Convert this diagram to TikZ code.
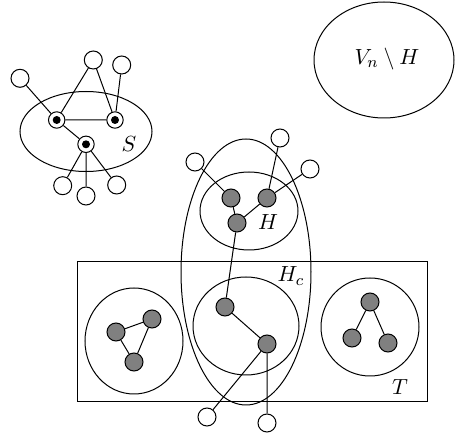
\documentclass[tikz,border=0pt]{standalone}
\begin{document}
\begin{tikzpicture}[x=0.5pt,y=-0.5pt,line width=0.5pt,
  wnode/.style={circle,draw,fill=white,inner sep=0pt,minimum size=9pt},
  gnode/.style={circle,draw,fill=black!50,inner sep=0pt,minimum size=9pt},
  snode/.style={circle,draw,fill=white,inner sep=0pt,minimum size=8.2pt},
  sdot/.style={circle,fill=black,inner sep=0pt,minimum size=4pt},
  lbl/.style={inner sep=0pt,font=\fontsize{11}{13}\selectfont}]
\useasboundingbox (0,0) rectangle (456,438);
% regions
\draw (86,131.5) ellipse [x radius=66, y radius=40];
\draw (384,60) ellipse [x radius=70, y radius=58];
\draw (246,272) ellipse [x radius=65, y radius=133];
\draw (249,211) ellipse [x radius=49, y radius=39];
\draw (77,262) rectangle (427,402);
\draw (134,341) ellipse [x radius=49, y radius=53];
\draw (246,326) ellipse [x radius=53, y radius=49];
\draw (370,327) ellipse [x radius=49, y radius=49];
% labels
\node[lbl] (lS) at (129,144) {$S$};
\node[lbl] (lV) at (387,59) {$V_n\setminus H$};
\node[lbl] (lH) at (268,222) {$H$};
\node[lbl] (lHc) at (291,276) {$H_c$};
\node[lbl] (lT) at (400,387) {$T$};
% S group
\node[snode] (sA) at (56.7,120) {};
\node[snode] (sB) at (115,120) {};
\node[snode] (sC) at (86,144.3) {};
\node[sdot] (dA) at (sA) {};
\node[sdot] (dB) at (sB) {};
\node[sdot] (dC) at (sC) {};
\node[wnode] (s1) at (93.3,60) {};
\node[wnode] (s2) at (121.7,65) {};
\node[wnode] (s3) at (20,78.3) {};
\node[wnode] (s4) at (62.7,185.7) {};
\node[wnode] (s5) at (86,196) {};
\node[wnode] (s6) at (116.7,185) {};
\draw (s3) -- (sA) (s1) -- (sA) (s1) -- (sB) (s2) -- (sB) (sA) -- (sB)
      (sA) -- (sC) (sC) -- (s4) (sC) -- (s5) (sC) -- (s6);
% H group
\node[gnode] (h1) at (231,198) {};
\node[gnode] (h2) at (267,198) {};
\node[gnode] (h3) at (237,223) {};
\node[wnode] (w1) at (195,162) {};
\node[wnode] (w2) at (280,138) {};
\node[wnode] (w3) at (310,169) {};
% T components
\node[gnode] (l1) at (116,332) {};
\node[gnode] (l2) at (152,319) {};
\node[gnode] (l3) at (134,362) {};
\node[gnode] (m1) at (225,307) {};
\node[gnode] (m2) at (267,344) {};
\node[wnode] (b1) at (207,417) {};
\node[wnode] (b2) at (267,423) {};
\node[gnode] (r1) at (370,302) {};
\node[gnode] (r2) at (352,338) {};
\node[gnode] (r3) at (388,343) {};
\draw (w1) -- (h1) (w2) -- (h2) (w3) -- (h2) (h1) -- (h3) (h3) -- (h2) (h3) -- (m1);
\draw (l1) -- (l2) (l2) -- (l3) (l3) -- (l1);
\draw (m1) -- (m2) (m2) -- (b1) (m2) -- (b2);
\draw (r1) -- (r2) (r1) -- (r3);
\end{tikzpicture}
\end{document}
